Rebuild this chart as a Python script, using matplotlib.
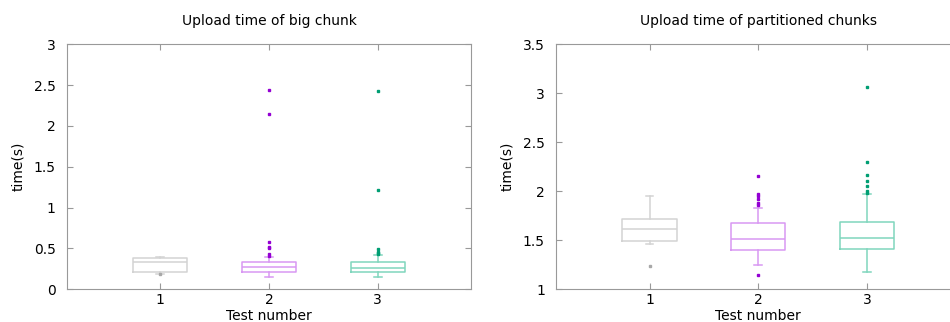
import numpy as np
import matplotlib.pyplot as plt

plt.rc('font', family='DejaVu Sans', size=10)

tests = [1, 2, 3]

# big chunk upload times (s): box statistics per test
big_med = [0.33, 0.27, 0.257]
big_q1 = [0.208, 0.208, 0.208]
big_q3 = [0.38, 0.33, 0.33]
big_lo = [0.19, 0.15, 0.147]
big_hi = [0.40, 0.40, 0.416]
big_out = [[0.187],
           [2.44, 2.15, 0.58, 0.52, 0.50, 0.43, 0.41],
           [2.43, 1.22, 0.49, 0.46, 0.44, 0.43]]

# partitioned chunks upload times (s)
part_med = [1.612, 1.51, 1.52]
part_q1 = [1.496, 1.398, 1.415]
part_q3 = [1.714, 1.673, 1.684]
part_lo = [1.46, 1.245, 1.173]
part_hi = [1.955, 1.827, 1.97]
part_out = [[1.235],
            [1.149, 2.153, 1.969, 1.95, 1.92, 1.885, 1.86],
            [3.064, 2.296, 2.166, 2.108, 2.057, 2.006, 1.98]]

line_colors = ['#d3d3d3', '#d898f2', '#80d6bd']
dot_colors = ['#a8a8a8', '#9400d3', '#009e73']


def draw(ax, med, q1, q3, lo, hi, out, title, ylim, yticks):
    stats = []
    for i in range(len(tests)):
        stats.append({'med': med[i], 'q1': q1[i], 'q3': q3[i],
                      'whislo': lo[i], 'whishi': hi[i], 'fliers': out[i]})
    for i, st in enumerate(stats):
        c = line_colors[i]
        ax.bxp([st], positions=[tests[i]], widths=0.5, capwidths=0.07,
               boxprops=dict(color=c, lw=1.1),
               medianprops=dict(color=c, lw=1.1),
               whiskerprops=dict(color=c, lw=1.1),
               capprops=dict(color=c, lw=1.1),
               flierprops=dict(marker='s', markersize=1.7, markerfacecolor=dot_colors[i],
                               markeredgecolor=dot_colors[i], linestyle='none'))
    ax.set_xlim(0.14, 3.86)
    ax.set_ylim(*ylim)
    ax.set_yticks(yticks)
    ax.set_yticklabels([f"{t:g}" for t in yticks])
    ax.set_xticks(tests)
    ax.set_xticklabels([str(t) for t in tests])
    ax.set_title(title, fontsize=10, pad=14)
    ax.set_xlabel("Test number", labelpad=1)
    ax.set_ylabel("time(s)", labelpad=6)
    ax.tick_params(direction='in', length=4, color='#999999', top=True, right=True,
                   labelsize=10)
    ax.tick_params(axis='y', pad=8)
    ax.tick_params(axis='x', pad=3)
    for sp in ax.spines.values():
        sp.set_color('#999999')


fig = plt.figure(figsize=(9.5, 3.22), dpi=100)
ax1 = fig.add_axes([0.0702, 0.1016, 0.4259, 0.7609])
ax2 = fig.add_axes([0.5853, 0.1016, 0.4257, 0.7609])

draw(ax1, big_med, big_q1, big_q3, big_lo, big_hi, big_out,
     "Upload time of big chunk", (0, 3), [0, 0.5, 1, 1.5, 2, 2.5, 3])
draw(ax2, part_med, part_q1, part_q3, part_lo, part_hi, part_out,
     "Upload time of partitioned chunks", (1, 3.5), [1, 1.5, 2, 2.5, 3, 3.5])

fig.savefig("out.png", dpi=100)
